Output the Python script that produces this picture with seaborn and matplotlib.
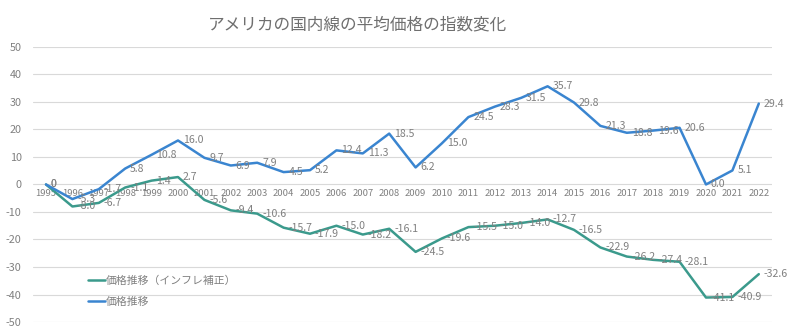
import matplotlib
matplotlib.use("Agg")
import matplotlib.pyplot as plt
import seaborn as sns
import pandas as pd

years = list(range(1995, 2023))
price = [0, -5.3, -1.7, 5.8, 10.8, 16.0, 9.7, 6.9, 7.9, 4.5, 5.2, 12.4, 11.3, 18.5,
         6.2, 15.0, 24.5, 28.3, 31.5, 35.7, 29.8, 21.3, 18.8, 19.6, 20.6, 0.0, 5.1, 29.4]
price_real = [0, -8.0, -6.7, -1.1, 1.4, 2.7, -5.6, -9.4, -10.6, -15.7, -17.9, -15.0, -18.2, -16.1,
              -24.5, -19.6, -15.5, -15.0, -14.0, -12.7, -16.5, -22.9, -26.2, -27.4, -28.1, -41.1, -40.9, -32.6]
series_names = ["価格推移（インフレ補正）", "価格推移"]
title = "アメリカの国内線の平均価格の指数変化"
yticks = [50, 40, 30, 20, 10, 0, -10, -20, -30, -40, -50]

df = pd.concat([
    pd.DataFrame({"year": years, "value": price_real, "series": series_names[0]}),
    pd.DataFrame({"year": years, "value": price, "series": series_names[1]}),
])

sns.set_theme(style="white")
plt.rcParams["font.family"] = ["Noto Sans CJK JP", "DejaVu Sans"]

GRAY = "#808080"
colors = {series_names[0]: "#3b9a8c", series_names[1]: "#3a85d0"}

fig = plt.figure(figsize=(8, 3.33), dpi=100)
ax = fig.add_axes([0.041, 0.033, 0.924, 0.826])

sns.lineplot(data=df, x="year", y="value", hue="series", hue_order=series_names,
             palette=colors, linewidth=1.8, ax=ax, sort=False)

for vals in (price, price_real):
    for i, (x, v) in enumerate(zip(years, vals)):
        txt = "0" if i == 0 else f"{v:.1f}"
        ax.annotate(txt, (x, v), xytext=(3.5, 0), textcoords="offset points",
                    ha="left", va="center", fontsize=7.6, color=GRAY)

ax.set_xlim(years[0] - 0.5, years[-1] + 0.5)
ax.set_ylim(-50, 50)
ax.set_yticks(yticks)
ax.set_yticklabels([str(t) for t in yticks])
ax.set_xticks(years)
ax.set_xticklabels([str(y) for y in years])
ax.grid(axis="y", color="#d9d9d9", linewidth=0.8)
ax.grid(axis="x", visible=False)
ax.set_axisbelow(True)
for s in ["top", "right", "left"]:
    ax.spines[s].set_visible(False)
ax.spines["bottom"].set_position(("data", 0))
ax.spines["bottom"].set_visible(False)
ax.tick_params(axis="x", length=0, pad=3, labelsize=6.8, labelcolor=GRAY)
ax.tick_params(axis="y", length=0, pad=8, labelsize=7.8, labelcolor=GRAY)
ax.set_xlabel("")
ax.set_ylabel("")

leg = ax.legend(loc="upper left", bbox_to_anchor=(0.062, 0.205), frameon=False,
                fontsize=7.8, handlelength=1.5, handletextpad=0.1, labelspacing=1.05)
for t in leg.get_texts():
    t.set_color(GRAY)

fig.text(0.447, 0.925, title, ha="center", va="center", fontsize=12, color="#6f6f6f")

fig.savefig("out.png", dpi=100)
